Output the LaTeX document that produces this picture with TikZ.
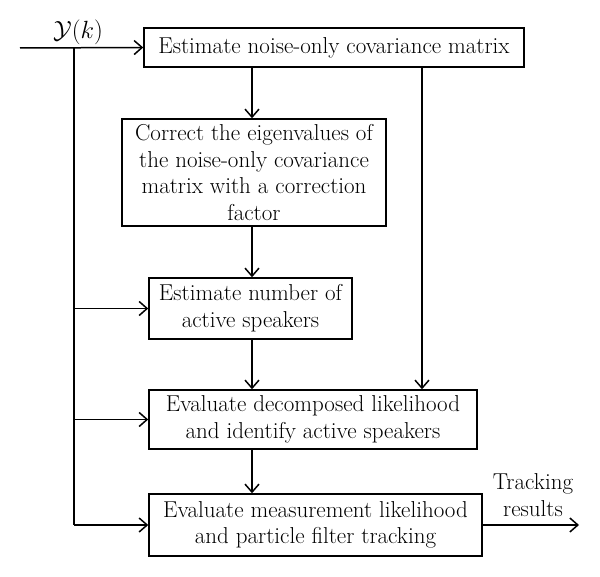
\documentclass[tikz,border=0pt]{standalone}
\usepackage{fontspec}
\usetikzlibrary{arrows.meta}
\begin{document}
\begin{tikzpicture}[x=1pt,y=1pt,
  every node/.style={font=\fontsize{23}{26.7}\selectfont},
  blk/.style={draw,line width=1.5pt,align=center,inner sep=0pt},
  conn/.style={line width=1.5pt},
  arr/.style={conn,-{Straight Barb[length=8pt,width=14pt,line width=1.5pt]}}]
\useasboundingbox (0,0) rectangle (600,-577);
\node[blk,minimum width=380,minimum height=39] (b1) at (334,-47.5) {Estimate noise-only covariance matrix};
\node[blk,minimum width=264,minimum height=107] (b2) at (254,-172.5) {Correct the eigenvalues of\\the noise-only covariance\\matrix with a correction\\factor};
\node[blk,minimum width=203,minimum height=61] (b3) at (250.5,-308.5) {Estimate number of\\active speakers};
\node[blk,minimum width=328,minimum height=59] (b4) at (313,-419.5) {Evaluate decomposed likelihood\\and identify active speakers};
\node[blk,minimum width=333,minimum height=62] (b5) at (315.5,-525) {Evaluate measurement likelihood\\and particle filter tracking};
\node (yk) at (78,-32) {$\mathcal{Y}(k)$};
\node[align=center] (tr) at (533,-495) {Tracking\\results};
\coordinate (in) at (20,-48);
\coordinate (bus) at (74,-48);
\coordinate (r) at (422,0);
\coordinate (out) at (579,-525);
\draw[arr] (in) -- (b1.west);
\draw[conn] (bus) -- (bus |- b5.west);
\draw[arr] (bus |- b5.west) -- (b5.west);
\draw[arr] (bus |- b3.west) -- (b3.west);
\draw[arr] (bus |- b4.west) -- (b4.west);
\draw[arr] (b1.south -| 252,0) -- (b2.north -| 252,0);
\draw[arr] (b2.south -| 252,0) -- (b3.north -| 252,0);
\draw[arr] (b3.south -| 252,0) -- (b4.north -| 252,0);
\draw[arr] (b4.south -| 252,0) -- (b5.north -| 252,0);
\draw[arr] (b1.south -| r) -- (b4.north -| r);
\draw[arr] (b5.east) -- (out);
\end{tikzpicture}
\end{document}
